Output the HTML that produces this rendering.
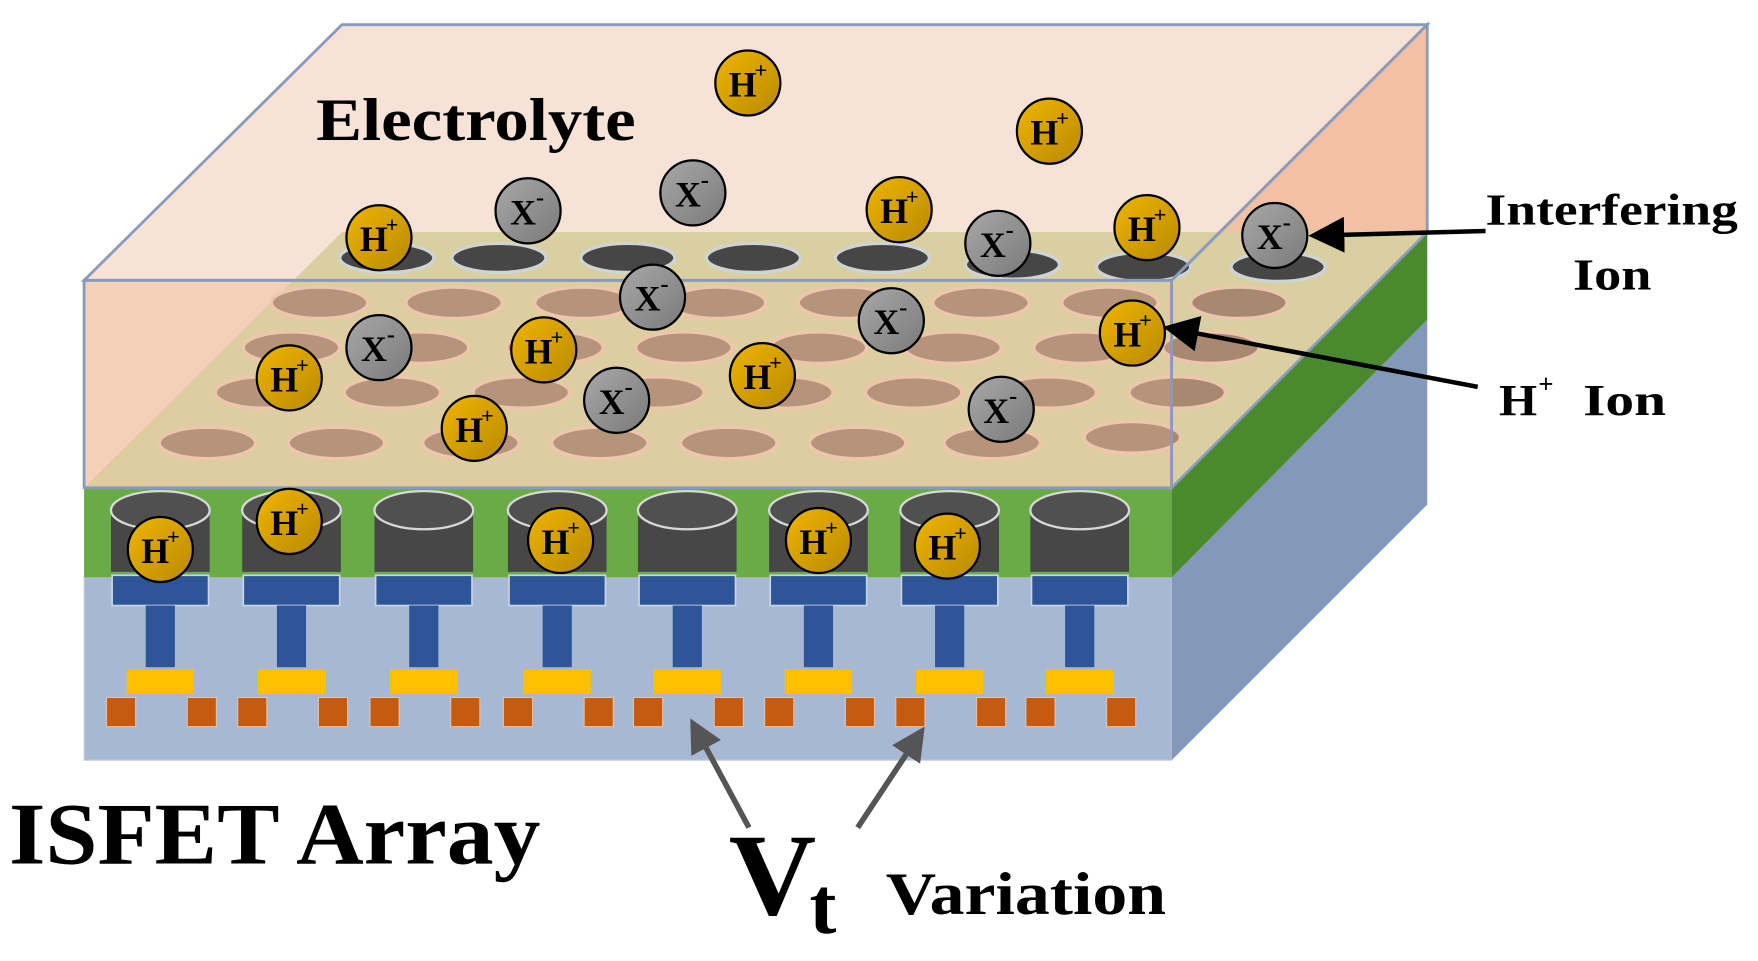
<!DOCTYPE html>
<html><head><meta charset="utf-8"><style>
html,body{margin:0;padding:0;background:#fff;}
svg{display:block}
text{font-family:"Liberation Serif",serif;font-weight:bold;fill:#000}
</style></head><body>
<svg width="1758" height="961" viewBox="0 0 1568 857" preserveAspectRatio="none" xmlns="http://www.w3.org/2000/svg">
<defs>
<linearGradient id="gh" x1="0" y1="0" x2="1" y2="1"><stop offset="0" stop-color="#f0b400"/><stop offset="1" stop-color="#b88a00"/></linearGradient>
<linearGradient id="gx" x1="0" y1="0" x2="1" y2="1"><stop offset="0" stop-color="#a8a8a8"/><stop offset="1" stop-color="#7a7a7a"/></linearGradient>
<marker id="ab" markerWidth="8" markerHeight="8" refX="6" refY="4" orient="auto" markerUnits="strokeWidth"><path d="M0,0 L8,4 L0,8 z" fill="#000"/></marker>
<marker id="ag" markerWidth="6" markerHeight="6" refX="5" refY="3" orient="auto" markerUnits="strokeWidth"><path d="M0,0 L6,3 L0,6 z" fill="#555"/></marker>
<g id="cyl">
<rect x="-44" y="455" width="88" height="55" fill="#474747"/>
<ellipse cx="0" cy="455" rx="44" ry="17" fill="#505050" stroke="#d8d8d8" stroke-width="2"/>
<rect x="-43" y="513" width="86" height="27" fill="#2e5597" stroke="#c9d3e6" stroke-width="1.5"/>
<rect x="-13" y="540" width="26" height="55" fill="#2e5597"/>
<rect x="-30" y="597" width="60" height="22" fill="#ffc000"/>
<rect x="-48" y="622" width="26" height="26" fill="#c55a11" stroke="#e8c0a0" stroke-width="1"/>
<rect x="24" y="622" width="26" height="26" fill="#c55a11" stroke="#e8c0a0" stroke-width="1"/>
</g>
<g id="h"><circle r="29" fill="url(#gh)" stroke="#000" stroke-width="2"/><text x="-17" y="12" font-size="32" font-weight="normal">H</text><text x="6" y="-5" font-size="20" font-weight="normal">+</text></g>
<g id="x"><circle r="29" fill="url(#gx)" stroke="#000" stroke-width="2"/><text x="-16" y="12" font-size="32" font-weight="normal">X</text><text x="7" y="-5" font-size="22" font-weight="normal">-</text></g>
</defs>
<!-- substrate -->
<rect x="75" y="515" width="970" height="163" fill="#a6b8d4" stroke="#c8d2e2"/>
<polygon points="1045,515 1273,285 1273,450 1045,678" fill="#8499b9"/>
<!-- green -->
<rect x="75" y="435" width="970" height="80" fill="#6aab48"/>
<polygon points="1045,435 1273,207 1273,285 1045,515" fill="#4a8a2e"/>
<!-- electrolyte faces (opaque base) -->
<polygon points="75,250 305,22 1273,22 1045,250" fill="#f6e2d6"/>
<polygon points="1045,250 1273,22 1273,207 1045,435" fill="#f2c0a4"/>
<rect x="75" y="250" width="970" height="185" fill="#f4d2be"/>
<!-- sensing surface -->
<polygon points="75,435 305,207 1273,207 1045,435" fill="#d9cfa0"/>
<g fill="#464646" stroke="#cfd4d2" stroke-width="3">
<ellipse cx="345" cy="230" rx="42" ry="13"/><ellipse cx="445" cy="230" rx="42" ry="13"/><ellipse cx="560" cy="230" rx="42" ry="13"/><ellipse cx="672" cy="230" rx="42" ry="13"/><ellipse cx="787" cy="230" rx="42" ry="13"/><ellipse cx="903" cy="236" rx="42" ry="13"/><ellipse cx="1020" cy="238" rx="42" ry="13"/><ellipse cx="1140" cy="238" rx="42" ry="13"/>
</g>
<g fill="#a98872" stroke="#ecc6ae" stroke-width="3">
<ellipse cx="285" cy="270" rx="43" ry="14"/><ellipse cx="405" cy="270" rx="43" ry="14"/><ellipse cx="520" cy="270" rx="43" ry="14"/><ellipse cx="640" cy="270" rx="43" ry="14"/><ellipse cx="755" cy="270" rx="43" ry="14"/><ellipse cx="875" cy="270" rx="43" ry="14"/><ellipse cx="990" cy="270" rx="43" ry="14"/><ellipse cx="1105" cy="270" rx="43" ry="14"/>
<ellipse cx="260" cy="310" rx="43" ry="14"/><ellipse cx="375" cy="310" rx="43" ry="14"/><ellipse cx="495" cy="310" rx="43" ry="14"/><ellipse cx="610" cy="310" rx="43" ry="14"/><ellipse cx="730" cy="310" rx="43" ry="14"/><ellipse cx="850" cy="310" rx="43" ry="14"/><ellipse cx="965" cy="310" rx="43" ry="14"/><ellipse cx="1080" cy="310" rx="43" ry="14"/>
<ellipse cx="235" cy="350" rx="43" ry="14"/><ellipse cx="350" cy="350" rx="43" ry="14"/><ellipse cx="465" cy="350" rx="43" ry="14"/><ellipse cx="585" cy="350" rx="43" ry="14"/><ellipse cx="700" cy="350" rx="43" ry="14"/><ellipse cx="815" cy="350" rx="43" ry="14"/><ellipse cx="935" cy="350" rx="43" ry="14"/><ellipse cx="1050" cy="350" rx="43" ry="14"/>
<ellipse cx="185" cy="395" rx="43" ry="14"/><ellipse cx="300" cy="395" rx="43" ry="14"/><ellipse cx="420" cy="395" rx="43" ry="14"/><ellipse cx="535" cy="395" rx="43" ry="14"/><ellipse cx="650" cy="395" rx="43" ry="14"/><ellipse cx="765" cy="395" rx="43" ry="14"/><ellipse cx="885" cy="395" rx="43" ry="14"/><ellipse cx="1010" cy="390" rx="43" ry="14"/>
</g>
<!-- cylinders -->
<use href="#cyl" x="143"/><use href="#cyl" x="260"/><use href="#cyl" x="378"/><use href="#cyl" x="497"/><use href="#cyl" x="613"/><use href="#cyl" x="730"/><use href="#cyl" x="847"/><use href="#cyl" x="963"/>
<!-- translucent overlays -->
<rect x="75" y="250" width="970" height="185" fill="#f4c8a8" fill-opacity="0.18"/>
<polygon points="75,250 305,22 1273,22 1045,250" fill="none" stroke="#8a9ab8" stroke-width="2.5"/>
<polygon points="1045,250 1273,22 1273,207 1045,435" fill="none" stroke="#8a9ab8" stroke-width="2.5"/>
<rect x="75" y="250" width="970" height="185" fill="none" stroke="#8a9ab8" stroke-width="2.5"/>
<!-- ions -->
<use href="#h" x="667" y="74"/><use href="#h" x="936" y="117"/><use href="#h" x="802" y="187"/><use href="#h" x="338" y="212"/><use href="#h" x="1023" y="203"/><use href="#h" x="1010" y="297"/><use href="#h" x="485" y="312"/><use href="#h" x="258" y="337"/><use href="#h" x="680" y="335"/><use href="#h" x="423" y="382"/><use href="#h" x="258" y="465"/><use href="#h" x="143" y="490"/><use href="#h" x="500" y="482"/><use href="#h" x="730" y="482"/><use href="#h" x="845" y="487"/>
<use href="#x" x="471" y="188"/><use href="#x" x="618" y="172"/><use href="#x" x="890" y="217"/><use href="#x" x="1137" y="210"/><use href="#x" x="582" y="265"/><use href="#x" x="795" y="286"/><use href="#x" x="338" y="310"/><use href="#x" x="550" y="357"/><use href="#x" x="893" y="365"/>
<!-- arrows -->
<line x1="1325" y1="206" x2="1175" y2="210" stroke="#000" stroke-width="4" marker-end="url(#ab)"/>
<line x1="1318" y1="345" x2="1045" y2="293" stroke="#000" stroke-width="4" marker-end="url(#ab)"/>
<line x1="668" y1="738" x2="618" y2="645" stroke="#555" stroke-width="5" marker-end="url(#ag)"/>
<line x1="765" y1="738" x2="822" y2="652" stroke="#555" stroke-width="5" marker-end="url(#ag)"/>
<!-- labels -->
<text x="282" y="125" font-size="54" textLength="285" lengthAdjust="spacingAndGlyphs">Electrolyte</text>
<text x="1325" y="200" font-size="40" textLength="225" lengthAdjust="spacingAndGlyphs">Interfering</text>
<text x="1403" y="258" font-size="40" textLength="70" lengthAdjust="spacingAndGlyphs">Ion</text>
<text x="1337" y="370" font-size="40" textLength="34" lengthAdjust="spacingAndGlyphs">H</text><text x="1372" y="350" font-size="24">+</text><text x="1412" y="370" font-size="40" textLength="74" lengthAdjust="spacingAndGlyphs">Ion</text>
<text x="8" y="770" font-size="78" textLength="474" lengthAdjust="spacingAndGlyphs">ISFET Array</text>
<text x="650" y="815" font-size="104" textLength="78" lengthAdjust="spacingAndGlyphs">V</text><text x="722" y="832" font-size="72">t</text>
<text x="790" y="815" font-size="54" textLength="250" lengthAdjust="spacingAndGlyphs">Variation</text>
</svg>
</body></html>
